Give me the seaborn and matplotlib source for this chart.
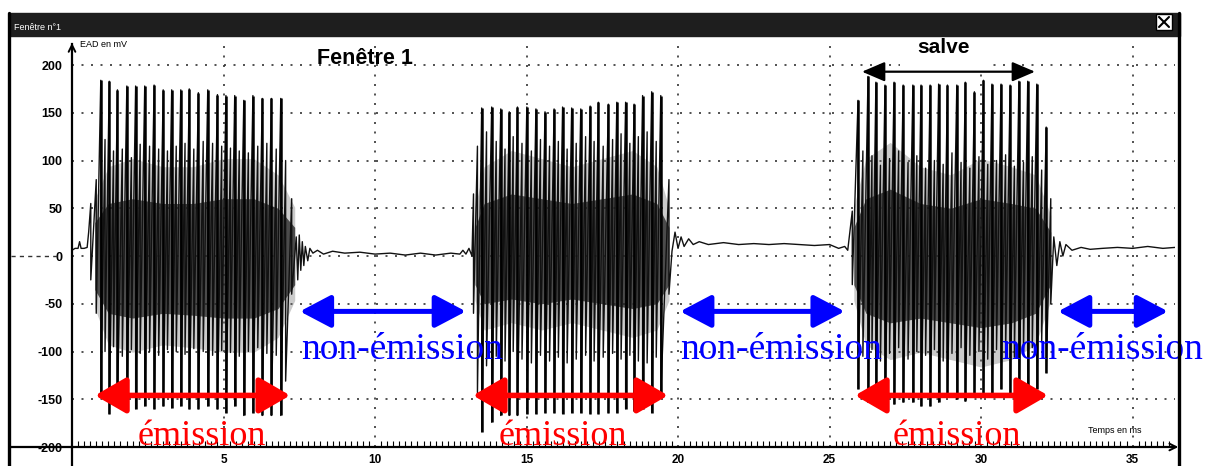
import numpy as np
import pandas as pd
import matplotlib
matplotlib.use("Agg")
import matplotlib.pyplot as plt
import seaborn as sns
from matplotlib.patches import Rectangle
from matplotlib.lines import Line2D

# ---------------- data (read from the scanned recording) ----------------
# burst 1 : main spikes
b1_t = [0.95, 1.23, 1.50, 1.81, 2.10, 2.40, 2.71, 3.01, 3.29, 3.59, 3.87, 4.17,
        4.48, 4.80, 5.08, 5.37, 5.67, 5.97, 6.28, 6.58, 6.89]
b1_max = [184, 183, 174, 178, 178, 178, 179, 174, 174, 174, 175, 171, 174, 169,
          168, 168, 163, 168, 165, 165, 165]
b1_min = [-146, -165, -157, -157, -160, -157, -160, -157, -159, -157, -160, -160,
          -157, -160, -164, -157, -167, -164, -167, -167, -167]
# burst 1 : secondary oscillations
b1_sub_t = [0.62, 0.80, 1.09, 1.37, 1.66, 1.96, 2.25, 2.56, 2.86, 3.15, 3.44, 3.73,
            4.02, 4.33, 4.64, 4.94, 5.23, 5.52, 5.82, 6.13, 6.43, 6.74, 7.05, 7.25]
b1_sub_max = [55, 80, 122, 110, 112, 103, 117, 115, 112, 110, 115, 118, 112, 120,
              118, 115, 113, 110, 108, 115, 118, 112, 100, 60]
b1_sub_min = [-25, -60, -100, -95, -105, -98, -102, -100, -104, -98, -100, -103,
              -97, -100, -104, -99, -101, -105, -100, -96, -102, -104, -131, -40]
b1_core_t = [0.75, 1.2, 2.0, 3.0, 4.0, 5.0, 6.0, 6.8, 7.35]
b1_core_hi = [35, 55, 60, 55, 55, 60, 60, 50, 30]
b1_core_lo = [-35, -60, -65, -60, -62, -65, -65, -55, -30]

# burst 2
b2_t = [13.52, 13.85, 14.15, 14.43, 14.70, 15.01, 15.31, 15.61, 15.91, 16.19, 16.49,
        16.79, 17.10, 17.37, 17.70, 17.98, 18.27, 18.55, 18.83, 19.13, 19.43]
b2_max = [155, 156, 154, 151, 156, 156, 154, 151, 154, 156, 155, 154, 157, 161,
          159, 161, 161, 159, 168, 172, 168]
b2_min = [-184, -174, -167, -167, -167, -165, -165, -164, -164, -165, -164, -164,
          -165, -165, -164, -164, -160, -162, -160, -164, -146]
b2_sub_t = [13.25, 13.38, 13.68, 14.00, 14.29, 14.56, 14.85, 15.16, 15.46, 15.76,
            16.05, 16.34, 16.64, 16.95, 17.23, 17.53, 17.84, 18.12, 18.41, 18.69,
            18.98, 19.28, 19.70]
b2_sub_max = [65, 115, 130, 120, 112, 125, 118, 110, 122, 115, 120, 112, 118, 125,
              120, 115, 122, 128, 118, 125, 130, 120, 80]
b2_sub_min = [-60, -143, -115, -105, -110, -100, -108, -112, -104, -110, -106, -112,
              -108, -104, -110, -106, -102, -108, -104, -110, -112, -106, -40]
b2_core_t = [13.3, 13.6, 14.5, 15.5, 16.5, 17.5, 18.5, 19.3, 19.7]
b2_core_hi = [30, 55, 65, 60, 55, 60, 65, 55, 30]
b2_core_lo = [-30, -50, -45, -50, -45, -50, -55, -50, -30]

# burst 3
b3_t = [25.94, 26.27, 26.53, 26.83, 27.13, 27.43, 27.75, 28.02, 28.32, 28.60, 28.89,
        29.20, 29.48, 29.78, 30.08, 30.36, 30.66, 30.96, 31.25, 31.54, 31.84, 32.15]
b3_max = [163, 188, 182, 179, 182, 179, 179, 179, 179, 180, 179, 179, 182, 172, 184,
          180, 180, 179, 183, 183, 180, 135]
b3_min = [-139, -153, -139, -157, -155, -153, -153, -157, -157, -153, -146, -150,
          -152, -146, -146, -146, -139, -146, -146, -139, -139, -122]
b3_sub_t = [25.75, 26.10, 26.40, 26.68, 26.98, 27.28, 27.59, 27.88, 28.17, 28.46,
            28.75, 29.04, 29.34, 29.63, 29.93, 30.22, 30.51, 30.81, 31.10, 31.40,
            31.69, 32.00, 32.30]
b3_sub_max = [47, 110, 105, 95, 102, 110, 98, 105, 92, 100, 96, 108, 98, 92, 104,
              96, 100, 106, 94, 98, 104, 90, 60]
b3_sub_min = [-30, -105, -98, -110, -102, -96, -108, -100, -104, -98, -110, -102,
              -96, -104, -100, -108, -98, -102, -106, -100, -96, -90, -50]
b3_core_t = [25.8, 26.2, 27.0, 28.0, 29.0, 30.0, 31.0, 31.8, 32.3]
b3_core_hi = [30, 60, 70, 55, 50, 60, 55, 50, 25]
b3_core_lo = [-30, -60, -70, -65, -70, -75, -70, -60, -30]

# resting trace between bursts
rest0_t = [0.0, 0.1, 0.2, 0.25, 0.3, 0.4, 0.5, 0.55]
rest0_v = [6, 8, 8, 15, 8, 8, 9, 25]
rest1_t = [7.40, 7.45, 7.50, 7.55, 7.60, 7.65, 7.70, 7.78, 7.85, 7.95, 8.1, 8.3, 8.6,
           9.0, 9.5, 10.0, 10.5, 11.0, 11.5, 12.0, 12.5, 12.8, 12.9, 13.0, 13.1, 13.2]
rest1_v = [20, -25, 22, -15, 15, -10, 10, -5, 8, 3, 6, 2, 5, 3, 4, 2, 3, 1, 3, 1, 3,
           2, 6, 2, 8, 0]
rest2_t = [19.8, 19.9, 20.0, 20.1, 20.2, 20.35, 20.5, 20.7, 21.0, 21.5, 22.0, 22.5,
           23.0, 23.5, 24.0, 24.5, 25.0, 25.3, 25.5, 25.6]
rest2_v = [5, 25, 8, 20, 10, 18, 12, 15, 12, 14, 12, 13, 12, 13, 12, 11, 12, 8, 10, 6]
rest3_t = [32.4, 32.5, 32.6, 32.7, 32.8, 33.0, 33.3, 33.6, 34.0, 34.5, 35.0, 35.5,
           36.0, 36.4]
rest3_v = [20, -10, 15, 0, 12, 6, 9, 7, 8, 9, 8, 10, 8, 9]

y_ticks = [200, 150, 100, 50, 0, -50, -100, -150, -200]
x_ticks = [5, 10, 15, 20, 25, 30, 35]

# ---------------- build the trace ----------------
def burst_points(t, mx, mn, st, smx, smn):
    spikes = sorted([(a, b, c) for a, b, c in zip(t, mx, mn)] +
                    [(a, b, c) for a, b, c in zip(st, smx, smn)])
    xs, ys = [], []
    for a, b, c in spikes:
        xs += [a, a]
        ys += [b, c]
    return xs, ys

segs = [(rest0_t, rest0_v),
        burst_points(b1_t, b1_max, b1_min, b1_sub_t, b1_sub_max, b1_sub_min),
        (rest1_t, rest1_v),
        burst_points(b2_t, b2_max, b2_min, b2_sub_t, b2_sub_max, b2_sub_min),
        (rest2_t, rest2_v),
        burst_points(b3_t, b3_max, b3_min, b3_sub_t, b3_sub_max, b3_sub_min),
        (rest3_t, rest3_v)]
tx, tv = [], []
for a, b in segs:
    tx += list(a)
    tv += list(b)
trace = pd.DataFrame({"t": tx, "v": tv})

# ---------------- figure ----------------
sns.set_theme(style="white")
plt.rcParams["font.family"] = ["Liberation Sans", "DejaVu Sans"]
plt.rcParams["text.color"] = "black"
plt.rcParams["xtick.color"] = "black"
plt.rcParams["ytick.color"] = "black"

W, H = 1216, 466
fig = plt.figure(figsize=(W / 100, H / 100), dpi=100)
ax = fig.add_axes([72 / W, (H - 447) / H, 1103 / W, 403 / H])
ax.set_xlim(0, 36.4)
ax.set_ylim(-200, 222)

def px(x, y):
    return (x / W, 1 - y / H)

grid_kw = dict(color="#333333", lw=1.2, ls=(0, (1.2, 4.5)), zorder=0)
for yv in y_ticks[:-1]:
    ax.axhline(yv, **grid_kw)
for xv in x_ticks:
    ax.axvline(xv, **grid_kw)

# dense cores of the bursts
for ct, hi, lo in [(b1_core_t, b1_core_hi, b1_core_lo),
                   (b2_core_t, b2_core_hi, b2_core_lo),
                   (b3_core_t, b3_core_hi, b3_core_lo)]:
    ax.fill_between(ct, [h * 1.7 for h in hi], [l * 1.55 for l in lo],
                    color="#6a6a6a", alpha=0.35, lw=0, zorder=1)
    ax.fill_between(ct, hi, lo, color="#1a1a1a", alpha=0.72, lw=0, zorder=1)

sns.lineplot(data=trace, x="t", y="v", sort=False, estimator=None, ax=ax,
             color="#111111", lw=1.0, zorder=2)
for t, mx, mn in [(b1_t, b1_max, b1_min), (b2_t, b2_max, b2_min), (b3_t, b3_max, b3_min)]:
    ax.vlines(t, mn, mx, color="black", lw=1.8, zorder=3)

# axes styling
for s in ["top", "right"]:
    ax.spines[s].set_visible(False)
for s in ["left", "bottom"]:
    ax.spines[s].set_color("black")
    ax.spines[s].set_linewidth(1.6)
ax.set_yticks(y_ticks)
ax.set_yticklabels([str(v) for v in y_ticks], fontsize=9, fontweight="bold")
ax.set_xticks(x_ticks)
ax.set_xticklabels([str(v) for v in x_ticks], fontsize=8.5, fontweight="bold")
ax.tick_params(axis="y", length=0, pad=7)
ax.tick_params(axis="x", length=0, pad=5)
ax.set_xticks(np.arange(0.2, 36.4, 0.2), minor=True)
ax.tick_params(axis="x", which="minor", bottom=True, direction="in", length=4,
               width=0.8, color="black")
ax.set_xlabel("")
ax.set_ylabel("")

# axis extensions and arrows
ax.annotate("", xy=(0, 226), xytext=(0, 200), arrowprops=dict(arrowstyle="->", lw=1.4, color="black"),
            annotation_clip=False)
ax.plot([0, 0], [-200, -222], color="black", lw=1.6, clip_on=False)
ax.plot([-2.05, 0], [-200, -200], color="black", lw=1.6, clip_on=False)
ax.annotate("", xy=(36.6, -200), xytext=(35.8, -200),
            arrowprops=dict(arrowstyle="->", lw=1.4, color="black"), annotation_clip=False)
ax.plot([-2.0, -0.5], [0, 0], color="#333333", lw=1.0, ls=(0, (3, 3)), clip_on=False)
ax.text(0.25, 221, "EAD en mV", fontsize=6.5, ha="left", va="center")
ax.text(34.4, -183, "Temps en ms", fontsize=6.5, ha="center", va="center")

# window frame
fig.add_artist(Rectangle(px(10, 36), 1170 / W, 23 / H, transform=fig.transFigure,
                         color="#1e1e1e", zorder=5))
fig.text(*px(14, 30), "Fenêtre n°1", color="white", fontsize=6.5, zorder=6)
fig.add_artist(Rectangle(px(1156, 30), 16 / W, 16 / H, transform=fig.transFigure,
                         facecolor="white", edgecolor="black", lw=1, zorder=6))
fig.add_artist(Line2D([1159 / W, 1169 / W], [1 - 17 / H, 1 - 27 / H], color="black", lw=1.5, zorder=7))
fig.add_artist(Line2D([1159 / W, 1169 / W], [1 - 27 / H, 1 - 17 / H], color="black", lw=1.5, zorder=7))
fig.add_artist(Line2D([9 / W, 9 / W], [1 - 13 / H, 0], color="black", lw=2.4, zorder=5))
fig.add_artist(Line2D([1179 / W, 1179 / W], [1 - 13 / H, 0], color="black", lw=2.4, zorder=5))

# annotations
ax.text(9.67, 207, "Fenêtre 1", fontsize=15.5, fontweight="bold", ha="center", va="center",
        color="black")
ax.text(28.75, 218, "salve", fontsize=15, fontweight="bold", ha="center", va="center",
        bbox=dict(boxstyle="square,pad=0.8", fc="white", ec="none"), zorder=8,
        clip_on=False, color="black")
ax.annotate("", xy=(26.07, 193), xytext=(31.78, 193),
            arrowprops=dict(arrowstyle="<|-|>,head_length=1.4,head_width=0.6",
                            mutation_scale=10, lw=1.6, color="black",
                            shrinkA=0, shrinkB=0), zorder=9)

serif = ["Liberation Serif", "DejaVu Serif"]
for a, b, c in [(0.76, 7.2, 4.3), (13.23, 19.67, 16.2), (25.84, 32.21, 29.2)]:
    ax.annotate("", xy=(a, -146), xytext=(b, -146),
                arrowprops=dict(arrowstyle="<|-|>,head_length=1.9,head_width=1.1",
                                mutation_scale=10, lw=4, color="#ff0000",
                                shrinkA=0, shrinkB=0), zorder=9)
    ax.text(c, -189, "émission", color="#ff0000", fontsize=26, family=serif,
            ha="center", va="center", zorder=9)
for a, b, c in [(7.52, 13.0, 10.9), (20.07, 25.5, 23.4), (32.54, 36.17, 34.0)]:
    ax.annotate("", xy=(a, -58), xytext=(b, -58),
                arrowprops=dict(arrowstyle="<|-|>,head_length=1.9,head_width=1.0",
                                mutation_scale=10, lw=3.6, color="#0000ff",
                                shrinkA=0, shrinkB=0), zorder=9, annotation_clip=False)
    ax.text(c, -98, "non-émission", color="#0000ff", fontsize=27, family=serif,
            ha="center", va="center", zorder=9, clip_on=False)

fig.savefig("out.png", dpi=100)
